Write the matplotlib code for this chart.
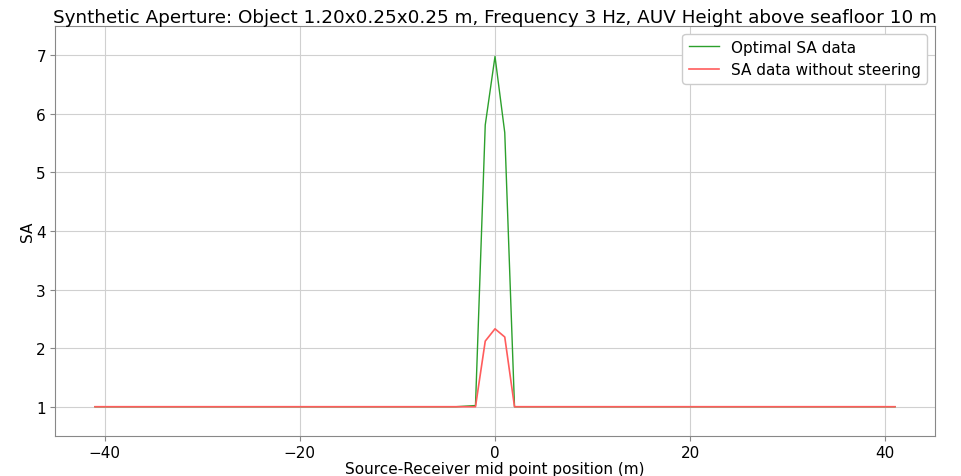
import matplotlib
matplotlib.use("Agg")
import matplotlib.pyplot as plt

positions = [-41, -40, -39, -38, -37, -36, -35, -34, -33, -32, -31, -30, -29, -28, -27, -26, -25, -24, -23, -22, -21,
             -20, -19, -18, -17, -16, -15, -14, -13, -12, -11, -10, -9, -8, -7, -6, -5, -4, -3, -2, -1,
             0, 1, 2, 3, 4, 5, 6, 7, 8, 9, 10, 11, 12, 13, 14, 15, 16, 17, 18, 19, 20,
             21, 22, 23, 24, 25, 26, 27, 28, 29, 30, 31, 32, 33, 34, 35, 36, 37, 38, 39, 40, 41]

optimal_sa = [1.0, 1.0, 1.0, 1.0, 1.0, 1.0, 1.0, 1.0, 1.0, 1.0, 1.0, 1.0, 1.0, 1.0, 1.0, 1.0, 1.0, 1.0, 1.0, 1.0, 1.0,
              1.0, 1.0, 1.0, 1.0, 1.0, 1.0, 1.0, 1.0, 1.0, 1.0, 1.0, 1.0, 1.0, 1.0, 1.0, 1.0, 1.0, 1.01, 1.02, 5.81,
              6.98, 5.68, 1.0, 1.0, 1.0, 1.0, 1.0, 1.0, 1.0, 1.0, 1.0, 1.0, 1.0, 1.0, 1.0, 1.0, 1.0, 1.0, 1.0, 1.0, 1.0,
              1.0, 1.0, 1.0, 1.0, 1.0, 1.0, 1.0, 1.0, 1.0, 1.0, 1.0, 1.0, 1.0, 1.0, 1.0, 1.0, 1.0, 1.0, 1.0, 1.0, 1.0]

no_steering_sa = [1.0, 1.0, 1.0, 1.0, 1.0, 1.0, 1.0, 1.0, 1.0, 1.0, 1.0, 1.0, 1.0, 1.0, 1.0, 1.0, 1.0, 1.0, 1.0, 1.0, 1.0,
                  1.0, 1.0, 1.0, 1.0, 1.0, 1.0, 1.0, 1.0, 1.0, 1.0, 1.0, 1.0, 1.0, 1.0, 1.0, 1.0, 1.0, 1.0, 1.0, 2.12,
                  2.33, 2.19, 1.0, 1.0, 1.0, 1.0, 1.0, 1.0, 1.0, 1.0, 1.0, 1.0, 1.0, 1.0, 1.0, 1.0, 1.0, 1.0, 1.0, 1.0, 1.0,
                  1.0, 1.0, 1.0, 1.0, 1.0, 1.0, 1.0, 1.0, 1.0, 1.0, 1.0, 1.0, 1.0, 1.0, 1.0, 1.0, 1.0, 1.0, 1.0, 1.0, 1.0]

title = "Synthetic Aperture: Object 1.20x0.25x0.25 m, Frequency 3 Hz, AUV Height above seafloor 10 m"

fig = plt.figure(figsize=(9.61, 4.77), dpi=100)
ax = fig.add_axes([55/961, 40/477, 880/961, 410/477])

ax.plot(positions, optimal_sa, color="#2ca02c", lw=1.0, label="Optimal SA data")
ax.plot(positions, no_steering_sa, color="#ff5c5c", lw=1.2, label="SA data without steering")

ax.set_xlim(-45.1, 45.1)
ax.set_ylim(0.5, 7.5)
ax.set_xticks([-40, -20, 0, 20, 40])
ax.set_yticks([1, 2, 3, 4, 5, 6, 7])
ax.tick_params(labelsize=11, color="#888888", pad=3)
ax.grid(True, color="#d0d0d0", lw=0.8)
for s in ax.spines.values():
    s.set_color("#888888")

ax.set_xlabel("Source-Receiver mid point position (m)", fontsize=11, labelpad=1)
ax.set_ylabel("SA", fontsize=11, labelpad=1)
ax.set_title(title, fontsize=13.2, pad=3)
ax.legend(loc="upper right", fontsize=11, handlelength=2, framealpha=1)

fig.savefig("out.png", dpi=100)
